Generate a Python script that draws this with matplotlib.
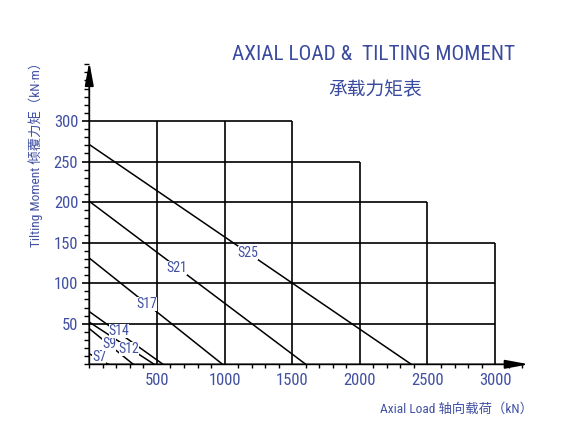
import matplotlib
matplotlib.use("Agg")
import matplotlib.pyplot as plt
from matplotlib import font_manager
from matplotlib.patches import FancyArrowPatch
from matplotlib.ticker import MultipleLocator

# ---- data ----
series_names = ["S7", "S9", "S12", "S14", "S17", "S21", "S25"]
moment_max = [13, 44, 52, 65, 131, 201, 271]          # kN·m at zero axial load
axial_max = [140, 325, 480, 545, 985, 1600, 2380]       # kN at zero moment
label_x = [72, 146, 294, 220, 427, 649, 1173]
label_y = [9, 25, 19, 41, 74, 119, 137]

grid_levels = [50, 100, 150, 200, 250, 300]
grid_level_ends = [3000, 3000, 3000, 2500, 2000, 1500]
grid_cols = [500, 1000, 1500, 2000, 2500, 3000]
grid_col_tops = [300, 300, 300, 250, 200, 150]

x_ticks = [500, 1000, 1500, 2000, 2500, 3000]
y_ticks = [50, 100, 150, 200, 250, 300]

title_en = "AXIAL LOAD &  TILTING MOMENT"
title_cn = "承载力矩表"
xlabel = "Axial Load 轴向载荷（kN）"
ylabel = "Tilting Moment 倾覆力矩（kN·m）"

# ---- fonts: look for a narrow / condensed latin face ----
fl = font_manager.fontManager.ttflist
names = {f.name for f in fl}
latin, stretch = None, "normal"
for n in ["Liberation Sans Narrow", "Roboto Condensed", "Open Sans Condensed",
          "Noto Sans Condensed", "DejaVu Sans Condensed", "Arial Narrow"]:
    if n in names:
        latin = n
        break
if latin is None:
    for pref in ["Liberation Sans", "Roboto", "Noto Sans", "Open Sans", "DejaVu Sans", "Inter", "Lato"]:
        hits = [f for f in fl if f.name == pref and str(f.stretch) in
                ("condensed", "semi-condensed", "extra-condensed", "ultra-condensed", "75", "87.5")]
        if hits:
            latin, stretch = pref, hits[0].stretch
            break
narrow_ok = latin is not None
if latin is None:
    latin = "Liberation Sans"
fam = [latin, "Noto Sans CJK SC", "DejaVu Sans"]
plt.rcParams["font.family"] = fam
plt.rcParams["font.stretch"] = stretch
k = 1.0 if narrow_ok else 0.85   # shrink sizes if no narrow face exists

BLUE = "#4150a2"
TBLUE = "#3a4a9e"

fig = plt.figure(figsize=(5.82, 4.44), dpi=100)
ax = fig.add_axes([0.1534, 0.1795, 0.7543, 0.6813])
ax.set_xlim(0, 3245)
ax.set_ylim(0, 373)
for s in ax.spines.values():
    s.set_visible(False)

# staircase grid
ax.hlines(grid_levels, 0, grid_level_ends, colors="black", linewidth=1.2, zorder=2)
ax.vlines(grid_cols, 0, grid_col_tops, colors="black", linewidth=1.2, zorder=2)

# rating lines
for name, m, a, lx, ly in zip(series_names, moment_max, axial_max, label_x, label_y):
    ax.plot([0, a], [m, 0], color="black", linewidth=1.1, zorder=3)
    ax.text(lx, ly, name, color=BLUE, fontsize=10 * k, ha="center", va="center", zorder=4,
            bbox=dict(facecolor="white", edgecolor="none", pad=0.0))

# axes with arrows
for start, end in [((0, 0), (3250, 0)), ((0, 0), (0, 373))]:
    arr = FancyArrowPatch(start, end, arrowstyle="-|>,head_length=14,head_width=2.6",
                          mutation_scale=1, color="black", linewidth=1.3,
                          shrinkA=0, shrinkB=0, clip_on=False, zorder=5)
    ax.add_patch(arr)

# ticks
ax.set_xticks(x_ticks)
ax.set_yticks(y_ticks)
ax.xaxis.set_minor_locator(MultipleLocator(100))
ax.yaxis.set_minor_locator(MultipleLocator(10))
ax.tick_params(axis="x", which="major", length=0, pad=6, labelsize=12 * k, labelcolor=BLUE)
ax.tick_params(axis="x", which="minor", length=3, width=1, direction="out")
ax.tick_params(axis="y", which="major", length=5, width=1.2, direction="out", pad=3,
               labelsize=12 * k, labelcolor=BLUE)
ax.tick_params(axis="y", which="minor", length=3.5, width=1, direction="out")

# titles / labels
fig.text(374 / 582, 1 - 55 / 444, title_en, color=TBLUE, fontsize=15.3 * k, ha="center", va="center")
fig.text(375 / 582, 1 - 90 / 444, title_cn, color=TBLUE, fontsize=13.5, ha="center", va="center")
fig.text(456 / 582, 1 - 409 / 444, xlabel, color=BLUE, fontsize=9.6 * k, ha="center", va="center")
fig.text(36 / 582, 1 - 151 / 444, ylabel, color=BLUE, fontsize=9.6 * k, ha="center", va="center",
         rotation=90)

fig.savefig("out.png", dpi=100, facecolor="white")
